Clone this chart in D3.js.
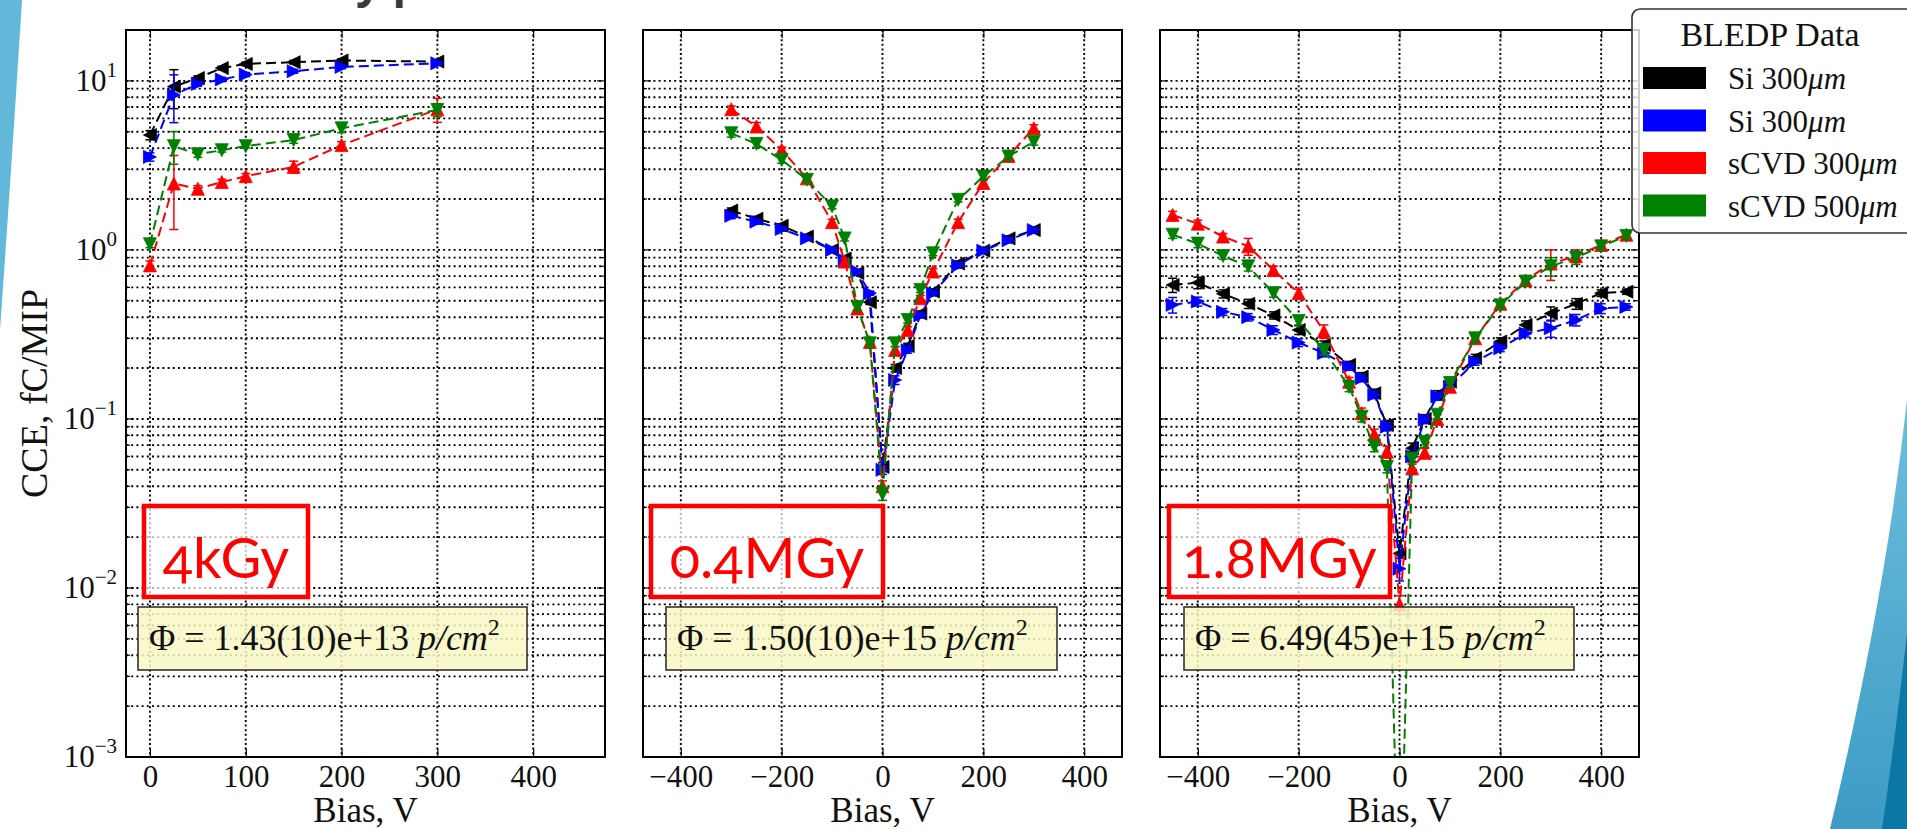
<!DOCTYPE html>
<html>
<head>
<meta charset="utf-8">
<script src="https://cdn.jsdelivr.net/npm/d3@7"></script>
<style>
  body { margin: 0; background: #fff; }
  svg { display: block; }
</style>
</head>
<body>
<div id="chart"></div>
<script>
// ---- data ----
const seriesNames = ["Si 300", "Si 300", "sCVD 300", "sCVD 500"];
const seriesColors = ["#000000", "#0000ff", "#ff0000", "#008000"];

const bias4k = [0, 25, 50, 75, 100, 150, 200, 300];
const blk4k = [4.78, 9.25, 10.4, 11.9, 12.6, 12.9, 13.2, 13.0];
const blu4k = [3.55, 8.26, 9.6, 10.2, 10.9, 11.4, 12.1, 12.7];
const red4k = [0.81, 2.47, 2.30, 2.52, 2.73, 3.10, 4.17, 6.79];
const grn4k = [1.08, 4.11, 3.68, 3.89, 4.11, 4.47, 5.24, 6.73];
const blk4kErr = [0.3, 2.4, 0.3, 0.3, 0.3, 0.3, 0.3, 0.3];
const blu4kErr = [0.2, 2.6, 0.3, 0.3, 0.3, 0.3, 0.3, 0.3];
const red4kErr = [0.05, 1.15, 0.1, 0.1, 0.1, 0.25, 0.2, 1.1];
const grn4kErr = [0.05, 0.9, 0.15, 0.1, 0.1, 0.2, 0.3, 0.6];

const bias04 = [-300, -250, -200, -150, -100, -75, -50, -25, 0, 25, 50, 75, 100, 150, 200, 250, 300];
const blk04 = [1.71, 1.53, 1.39, 1.2, 1.0, 0.89, 0.73, 0.49, 0.052, 0.2, 0.27, 0.42, 0.567, 0.83, 0.99, 1.17, 1.31];
const blu04 = [1.59, 1.47, 1.33, 1.17, 1.0, 0.87, 0.745, 0.555, 0.050, 0.17, 0.255, 0.41, 0.555, 0.81, 0.99, 1.14, 1.31];
const red04 = [6.8, 5.37, 3.91, 2.65, 1.46, 0.853, 0.45, 0.285, 0.040, 0.256, 0.336, 0.518, 0.744, 1.46, 2.49, 3.6, 5.25];
const grn04 = [4.9, 4.24, 3.41, 2.6, 1.81, 1.17, 0.46, 0.28, 0.036, 0.28, 0.385, 0.58, 0.955, 1.98, 2.72, 3.57, 4.37];
const blk04Err = [0.06, 0.05, 0.04, 0.03, 0.03, 0.02, 0.02, 0.015, 0.003, 0.01, 0.01, 0.015, 0.02, 0.03, 0.03, 0.04, 0.04];
const blu04Err = [0.06, 0.05, 0.04, 0.03, 0.03, 0.02, 0.02, 0.015, 0.003, 0.01, 0.01, 0.015, 0.02, 0.03, 0.03, 0.04, 0.04];
const red04Err = [0.3, 0.3, 0.15, 0.1, 0.06, 0.04, 0.02, 0.015, 0.003, 0.012, 0.015, 0.02, 0.03, 0.06, 0.1, 0.15, 0.25];
const grn04Err = [0.25, 0.2, 0.15, 0.1, 0.06, 0.04, 0.02, 0.015, 0.003, 0.012, 0.015, 0.02, 0.03, 0.06, 0.1, 0.15, 0.2];

const bias18 = [-450, -400, -350, -300, -250, -200, -150, -100, -75, -50, -25, 0, 25, 50, 75, 100, 150, 200, 250, 300, 350, 400, 450];
const blk18 = [0.62, 0.64, 0.55, 0.48, 0.41, 0.336, 0.274, 0.209, 0.178, 0.142, 0.092, 0.016, 0.067, 0.10, 0.139, 0.166, 0.229, 0.287, 0.36, 0.42, 0.48, 0.555, 0.566];
const blu18 = [0.473, 0.495, 0.43, 0.40, 0.336, 0.283, 0.245, 0.204, 0.174, 0.139, 0.09, 0.013, 0.06, 0.099, 0.136, 0.155, 0.218, 0.262, 0.32, 0.344, 0.385, 0.45, 0.46];
const red18 = [1.61, 1.43, 1.2, 1.05, 0.76, 0.555, 0.33, 0.166, 0.108, 0.081, 0.064, 0.008, 0.051, 0.063, 0.1, 0.155, 0.30, 0.48, 0.66, 0.83, 0.92, 1.07, 1.23];
const grn18 = [1.23, 1.09, 0.92, 0.80, 0.555, 0.38, 0.256, 0.155, 0.103, 0.069, 0.052, 0.0001, 0.058, 0.073, 0.106, 0.163, 0.30, 0.47, 0.65, 0.80, 0.90, 1.05, 1.21];
const blk18Err = [0.06, 0.05, 0.03, 0.03, 0.02, 0.02, 0.015, 0.01, 0.01, 0.008, 0.006, 0.003, 0.005, 0.006, 0.008, 0.01, 0.012, 0.015, 0.02, 0.04, 0.035, 0.025, 0.02];
const blu18Err = [0.05, 0.03, 0.02, 0.02, 0.02, 0.015, 0.012, 0.01, 0.008, 0.007, 0.005, 0.002, 0.004, 0.005, 0.007, 0.008, 0.01, 0.012, 0.015, 0.04, 0.03, 0.03, 0.02];
const red18Err = [0.08, 0.07, 0.05, 0.12, 0.04, 0.03, 0.03, 0.01, 0.008, 0.006, 0.005, 0.001, 0.004, 0.004, 0.006, 0.008, 0.015, 0.025, 0.04, 0.17, 0.08, 0.06, 0.05];
const grn18Err = [0.06, 0.06, 0.04, 0.05, 0.03, 0.02, 0.015, 0.01, 0.007, 0.005, 0.004, 0, 0.004, 0.005, 0.006, 0.008, 0.015, 0.02, 0.03, 0.1, 0.08, 0.05, 0.05];

const doseLabels = ["4kGy", "0.4MGy", "1.8MGy"];
const fluxLabels = ["1.43(10)e+13", "1.50(10)e+15", "6.49(45)e+15"];
const xTicks4k = [0, 100, 200, 300, 400];
const xTicksWide = [-400, -200, 0, 200, 400];
const yTickExps = [-3, -2, -1, 0, 1];

// ---- layout ----
const W = 1907, H = 829;
const plotTop = 30, plotBottom = 757, pw = 479;
const serif = "'Liberation Serif', 'Times New Roman', serif";

const panels = [
  { left: 126, xdom: [-25, 475], ticks: xTicks4k, bias: bias4k,
    vals: [blk4k, blu4k, red4k, grn4k], errs: [blk4kErr, blu4kErr, red4kErr, grn4kErr],
    red: [18, 182], yel: [12, 401] },
  { left: 643, xdom: [-475, 475], ticks: xTicksWide, bias: bias04,
    vals: [blk04, blu04, red04, grn04], errs: [blk04Err, blu04Err, red04Err, grn04Err],
    red: [8, 240], yel: [23, 414] },
  { left: 1160, xdom: [-475, 475], ticks: xTicksWide, bias: bias18,
    vals: [blk18, blu18, red18, grn18], errs: [blk18Err, blu18Err, red18Err, grn18Err],
    red: [9, 230], yel: [24, 414] }
];

const markerDir = ["left", "right", "up", "down"];
function tri(dir, h) {
  const p = {
    up: [[0, -h], [-h, h], [h, h]],
    down: [[0, h], [-h, -h], [h, -h]],
    left: [[-h, 0], [h, -h], [h, h]],
    right: [[h, 0], [-h, -h], [-h, h]]
  }[dir];
  return "M" + p.map(d => d.join(",")).join("L") + "Z";
}

const svg = d3.select("#chart").append("svg")
  .attr("width", W).attr("height", H)
  .attr("viewBox", [0, 0, W, H]);

// slide decoration
const defs = svg.append("defs");
const g1 = defs.append("linearGradient").attr("id", "lightBlue").attr("x1", 0).attr("y1", 0).attr("x2", 0).attr("y2", 1);
g1.append("stop").attr("offset", "0%").attr("stop-color", "#6cbfdc");
g1.append("stop").attr("offset", "100%").attr("stop-color", "#3d9bc5");
svg.append("path").attr("d", "M0,0 L22,0 Q12,160 0,330 Z").attr("fill", "#62b8d8");
svg.append("path").attr("d", "M1907,400 Q1885,600 1830,829 L1907,829 Z").attr("fill", "url(#lightBlue)");
svg.append("path").attr("d", "M1907,633 Q1895,740 1882,829 L1907,829 Z").attr("fill", "#0b77a4");
// bottom of the slide title, cut by the top edge as in the source
svg.append("text").attr("x", 356).attr("y", -3)
  .attr("font-family", "'Open Sans', sans-serif").attr("font-weight", "bold")
  .attr("font-size", 44).attr("fill", "#3a3a3a").text("y p");

const y = d3.scaleLog().domain([1e-3, 20]).range([plotBottom, plotTop]);
const yGrid = y.ticks().filter(v => v > 1e-3 && v < 20);

panels.forEach((p, pi) => {
  const x = d3.scaleLinear().domain(p.xdom).range([p.left, p.left + pw]);
  const g = svg.append("g");

  defs.append("clipPath").attr("id", "clip" + pi)
    .append("rect").attr("x", p.left).attr("y", plotTop).attr("width", pw).attr("height", plotBottom - plotTop);

  // grid
  g.append("g").selectAll("line").data(yGrid).join("line")
    .attr("x1", p.left).attr("x2", p.left + pw)
    .attr("y1", d => y(d)).attr("y2", d => y(d))
    .attr("stroke", "#000").attr("stroke-width", 1.9).attr("stroke-dasharray", "2,3.2");
  g.append("g").selectAll("line").data(p.ticks).join("line")
    .attr("x1", d => x(d)).attr("x2", d => x(d))
    .attr("y1", plotTop).attr("y2", plotBottom)
    .attr("stroke", "#000").attr("stroke-width", 1.9).attr("stroke-dasharray", "2,2.6");

  // inward ticks
  const major = yGrid.filter(v => Math.abs(Math.log10(v) - Math.round(Math.log10(v))) < 1e-9);
  const tk = g.append("g").attr("stroke", "#000").attr("stroke-width", 1.2);
  yGrid.forEach(v => {
    const len = major.includes(v) ? 8 : 4;
    tk.append("line").attr("x1", p.left).attr("x2", p.left + len).attr("y1", y(v)).attr("y2", y(v));
    tk.append("line").attr("x1", p.left + pw).attr("x2", p.left + pw - len).attr("y1", y(v)).attr("y2", y(v));
  });

  // data
  const dg = g.append("g").attr("clip-path", `url(#clip${pi})`);
  p.vals.forEach((vals, si) => {
    const col = seriesColors[si];
    const pts = p.bias.map((b, i) => ({ b, v: vals[i], e: p.errs[si][i] }));
    dg.append("path").datum(pts)
      .attr("d", d3.line().x(d => x(d.b)).y(d => y(d.v)))
      .attr("fill", "none").attr("stroke", col).attr("stroke-width", 2)
      .attr("stroke-dasharray", "10,5");
    const eb = dg.append("g").attr("stroke", col).attr("stroke-width", 1.5);
    pts.filter(d => d.e > 0).forEach(d => {
      const yt = y(d.v + d.e), yb = y(Math.max(d.v - d.e, 1e-4));
      const cx = x(d.b);
      eb.append("line").attr("x1", cx).attr("x2", cx).attr("y1", yt).attr("y2", yb);
      eb.append("line").attr("x1", cx - 4.5).attr("x2", cx + 4.5).attr("y1", yt).attr("y2", yt);
      eb.append("line").attr("x1", cx - 4.5).attr("x2", cx + 4.5).attr("y1", yb).attr("y2", yb);
    });
    dg.append("g").selectAll("path").data(pts).join("path")
      .attr("transform", d => `translate(${x(d.b)},${y(d.v)})`)
      .attr("d", tri(markerDir[si], 6.5))
      .attr("fill", col).attr("stroke", col).attr("stroke-width", 0.8);
  });

  // frame
  g.append("rect").attr("x", p.left).attr("y", plotTop).attr("width", pw).attr("height", plotBottom - plotTop)
    .attr("fill", "none").attr("stroke", "#000").attr("stroke-width", 2);

  // x axis
  const ax = g.append("g").attr("transform", `translate(0,${plotBottom})`)
    .call(d3.axisBottom(x).tickValues(p.ticks).tickSize(-8).tickPadding(8).tickFormat(d3.format("d")));
  ax.select(".domain").remove();
  ax.selectAll(".tick line").attr("stroke-width", 1.2);
  ax.selectAll("text").attr("font-family", serif).attr("font-size", 31).attr("fill", "#111");
  const axt = g.append("g").attr("transform", `translate(0,${plotTop})`)
    .call(d3.axisTop(x).tickValues(p.ticks).tickSize(-8).tickFormat(""));
  axt.select(".domain").remove();
  axt.selectAll(".tick line").attr("stroke-width", 1.2);

  g.append("text").attr("x", p.left + pw / 2).attr("y", 822)
    .attr("text-anchor", "middle").attr("font-family", serif).attr("font-size", 35)
    .attr("fill", "#111").text("Bias, V");

  // dose box
  g.append("rect").attr("x", p.left + p.red[0]).attr("y", 506)
    .attr("width", p.red[1] - p.red[0]).attr("height", 91)
    .attr("fill", "#fff").attr("fill-opacity", 0.7)
    .attr("stroke", "#ff0000").attr("stroke-width", 4.5);
  g.append("text").attr("x", p.left + (p.red[0] + p.red[1]) / 2).attr("y", 578)
    .attr("text-anchor", "middle").attr("font-family", "Lato, 'Open Sans', sans-serif")
    .attr("font-size", 56).attr("fill", "#ff0000")
    .style("font-variant-numeric", "oldstyle-nums")
    .text(doseLabels[pi]);

  // flux box
  g.append("rect").attr("x", p.left + p.yel[0]).attr("y", 607)
    .attr("width", p.yel[1] - p.yel[0]).attr("height", 63)
    .attr("fill", "#f8f8c4").attr("fill-opacity", 0.85)
    .attr("stroke", "#333").attr("stroke-width", 1.6);
  const ft = g.append("text").attr("x", p.left + p.yel[0] + 11).attr("y", 650)
    .attr("font-family", serif).attr("font-size", 36).attr("fill", "#111");
  ft.append("tspan").text(`Φ = ${fluxLabels[pi]} `);
  ft.append("tspan").attr("font-style", "italic").text("p/cm");
  ft.append("tspan").attr("font-size", 24).attr("dy", -15).text("2");
});

// y tick labels (shared axis, left panel only)
const yl = svg.append("g");
yTickExps.forEach(k => {
  const t = yl.append("text").attr("x", 117).attr("y", y(Math.pow(10, k)) + 10)
    .attr("text-anchor", "end").attr("font-family", serif).attr("font-size", 31).attr("fill", "#111");
  t.append("tspan").text("10");
  t.append("tspan").attr("font-size", 21).attr("dy", -14).text(k < 0 ? "−" + (-k) : String(k));
});
svg.append("text")
  .attr("transform", `translate(47,${(plotTop + plotBottom) / 2}) rotate(-90)`)
  .attr("text-anchor", "middle").attr("font-family", serif).attr("font-size", 38)
  .attr("fill", "#111").text("CCE, fC/MIP");

// legend
const lg = svg.append("g");
lg.append("rect").attr("x", 1632).attr("y", 9).attr("width", 320).attr("height", 224).attr("rx", 8)
  .attr("fill", "#fff").attr("fill-opacity", 0.8).attr("stroke", "#333").attr("stroke-width", 1.6);
lg.append("text").attr("x", 1770).attr("y", 46).attr("text-anchor", "middle")
  .attr("font-family", serif).attr("font-size", 34).attr("fill", "#111").text("BLEDP Data");
seriesNames.forEach((name, i) => {
  const yy = 67 + i * 42.5;
  lg.append("rect").attr("x", 1643).attr("y", yy).attr("width", 63).attr("height", 22)
    .attr("fill", seriesColors[i]);
  const t = lg.append("text").attr("x", 1728).attr("y", yy + 22)
    .attr("font-family", serif).attr("font-size", 31).attr("fill", "#111");
  t.append("tspan").text(name);
  t.append("tspan").attr("font-style", "italic").text("μm");
});
</script>
</body>
</html>
